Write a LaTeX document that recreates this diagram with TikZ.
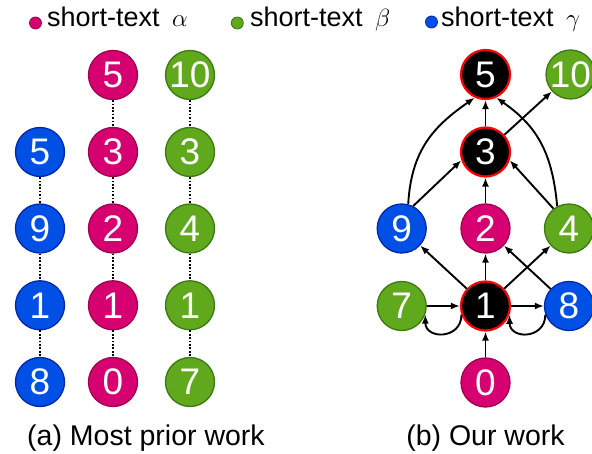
\documentclass[tikz,border=0pt]{standalone}
\usepackage{fontspec}
\setmainfont{Liberation Sans}
\usetikzlibrary{arrows.meta}
\definecolor{pk}{RGB}{214,0,112}
\definecolor{pkd}{RGB}{160,0,80}
\definecolor{gr}{RGB}{96,168,28}
\definecolor{grd}{RGB}{60,120,20}
\definecolor{bl}{RGB}{0,80,230}
\definecolor{bld}{RGB}{0,40,170}
\definecolor{rd}{RGB}{255,0,0}
\newcommand{\grk}[1]{{\fontsize{30}{30}\selectfont\,$#1$}}
\begin{document}
\begin{tikzpicture}[x=1pt,y=-1pt,
  nd/.style={circle,minimum size=49pt,inner sep=0pt,line width=1.3pt,text=white,font=\fontsize{37}{37}\selectfont},
  pn/.style={nd,fill=pk,draw=pkd},
  gn/.style={nd,fill=gr,draw=grd},
  bn/.style={nd,fill=bl,draw=bld},
  kn/.style={nd,fill=black,draw=rd,line width=2.2pt},
  dl/.style={line width=1.8pt,dash pattern=on 1.7pt off 1.7pt},
  ar/.style={line width=1.9pt,-{Latex[length=9pt,width=7pt]}},
  ldot/.style={circle,minimum size=12pt,inner sep=0pt,line width=0.8pt},
  legtxt/.style={anchor=base west,inner sep=0pt,font=\fontsize{27}{27}\selectfont},
  captxt/.style={anchor=base,inner sep=0pt,font=\fontsize{28.5}{28.5}\selectfont}]
\useasboundingbox (0,0) rectangle (592,454);

% legend
\node[ldot,fill=pk,draw=pkd] (dpk) at (35.5,23) {};
\node[legtxt] (lpk) at (47,27) {short-text \grk{\alpha}};
\node[ldot,fill=gr,draw=grd] (dgr) at (237.3,23) {};
\node[legtxt] (lgr) at (250,27) {short-text \grk{\beta}};
\node[ldot,fill=bl,draw=bld] (dbl) at (431.5,22) {};
\node[legtxt] (lbl) at (441,27) {short-text \grk{\gamma}};

% (a) left panel
\node[bn] (a5) at (40,152) {5};
\node[bn] (a9) at (40,228.5) {9};
\node[bn] (a1) at (40,305.3) {1};
\node[bn] (a8) at (40,382) {8};
\node[pn] (p5) at (113,75) {5};
\node[pn] (p3) at (113,152) {3};
\node[pn] (p2) at (113,228.5) {2};
\node[pn] (p1) at (113,305.3) {1};
\node[pn] (p0) at (113,382) {0};
\node[gn] (g10) at (190,75) {10};
\node[gn] (g3) at (190,152) {3};
\node[gn] (g4) at (190,228.5) {4};
\node[gn] (g1) at (190,305.3) {1};
\node[gn] (g7) at (190,382) {7};
\draw[dl] (a5)--(a9) (a9)--(a1) (a1)--(a8);
\draw[dl] (p5)--(p3) (p3)--(p2) (p2)--(p1) (p1)--(p0);
\draw[dl] (g10)--(g3) (g3)--(g4) (g4)--(g1) (g1)--(g7);

% (b) right panel
\node[kn] (n5) at (485.5,74.5) {5};
\node[gn] (n10) at (570.5,74.5) {10};
\node[kn] (n3) at (485.5,152) {3};
\node[bn] (n9) at (401.7,228.5) {9};
\node[pn] (n2) at (485.5,228.5) {2};
\node[gn] (n4) at (569,228.5) {4};
\node[gn] (n7) at (401.7,306) {7};
\node[kn] (n1) at (485.5,306) {1};
\node[bn] (n8) at (569,306) {8};
\node[pn] (n0) at (485.5,382.5) {0};

\draw[ar] (n0) -- (n1);
\draw[ar] (n7) -- (n1);
\draw[ar] (n1) -- (n8);
\draw[ar] (n1.200) .. controls +(0,25) and +(0,25) .. (n7.-20);
\draw[ar] (n8.-160) .. controls +(0,25) and +(0,25) .. (n1.-20);
\draw[ar] (n1) -- (n9);
\draw[ar] (n1) -- (n2);
\draw[ar] (n1) -- (n4);
\draw[ar] (n8) -- (n2);
\draw[ar] (n2) -- (n3);
\draw[ar] (n9.63) -- (n3.-161);
\draw[ar] (n4.128) -- (n3.-19);
\draw[ar] (n3) -- (n5);
\draw[ar] (n3) -- (n10);
\draw[ar] (n9.75) .. controls +(3,-55) and +(-40,28) .. (n5.-115);
\draw[ar] (n4.118) .. controls +(-5,-55) and +(40,28) .. (n5.-65);

% captions
\node[captxt] (ca) at (146,445) {(a) Most prior work};
\node[captxt] (cb) at (485.5,445) {(b) Our work};
\end{tikzpicture}
\end{document}
